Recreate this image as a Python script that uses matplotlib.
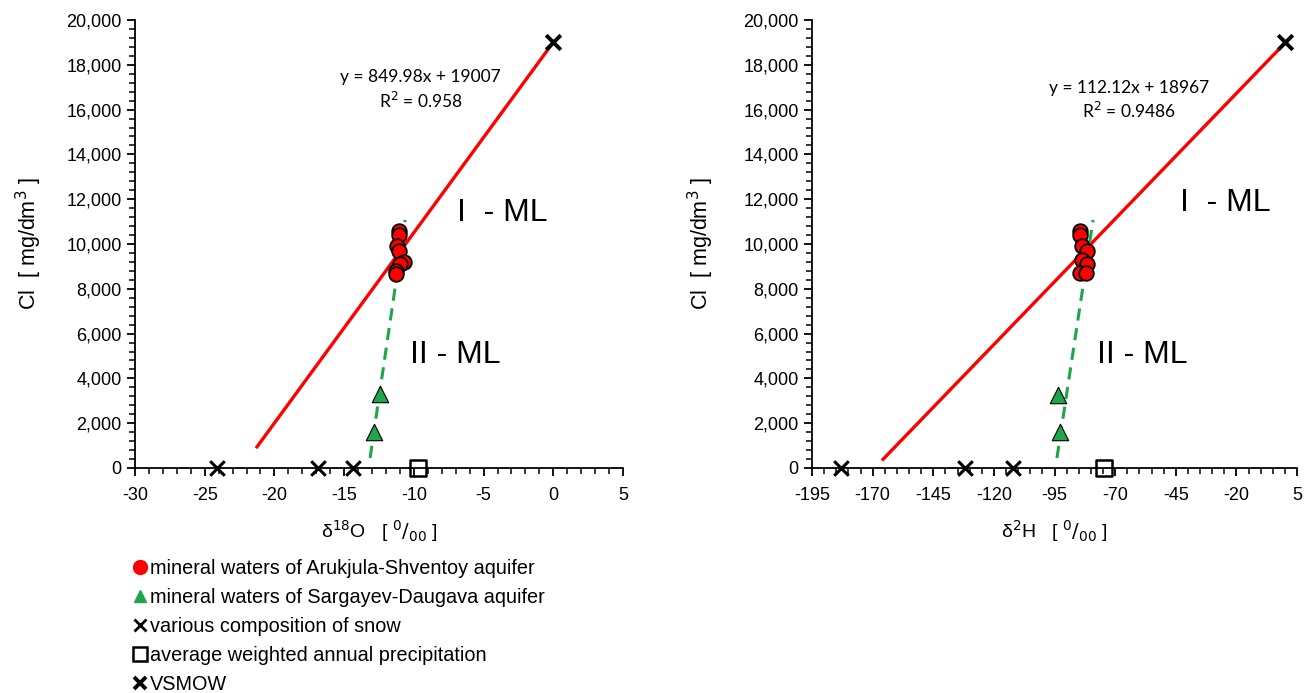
import matplotlib
matplotlib.use("Agg")
import matplotlib.pyplot as plt
import numpy as np
from matplotlib.ticker import MultipleLocator, FixedLocator, FuncFormatter
from matplotlib.lines import Line2D

plt.rcParams['font.family'] = ['Liberation Sans', 'DejaVu Sans']
plt.rcParams['axes.unicode_minus'] = False

# ---- data: left panel (delta 18O) ----
o18_arukjula = [-11.1, -11.1, -11.2, -11.1, -10.7, -11.0, -11.3, -11.3]
cl_arukjula_o = [10600, 10400, 9900, 9700, 9200, 9100, 8800, 8650]
o18_sargayev = [-12.4, -12.85]
cl_sargayev_o = [3300, 1600]
o18_snow = [-24.1, -16.9, -14.4]
o18_precip = [-9.7]
o18_vsmow = [0.0]
cl_vsmow = [19000]
fit_o = (849.98, 19007)          # slope, intercept
fit_o_range = (-21.25, 0.0)
fit2_o = (4233, 56070)
fit2_o_range = (-13.14, -10.63)
xticks_o = [-30, -25, -20, -15, -10, -5, 0, 5]

# ---- data: right panel (delta 2H) ----
h2_arukjula = [-84.5, -84.5, -83.7, -81.5, -83.5, -81.5, -84.5, -82.0]
cl_arukjula_h = [10600, 10400, 9900, 9700, 9300, 9100, 8700, 8700]
h2_sargayev = [-93.6, -92.7]
cl_sargayev_h = [3250, 1600]
h2_snow = [-183.0, -132.0, -112.0]
h2_precip = [-74.6]
h2_vsmow = [0.0]
fit_h = (112.12, 18967)
fit_h_range = (-165.7, 0.0)
fit2_h = (713, 67468)
fit2_h_range = (-94.0, -79.1)
xticks_h = [-195, -170, -145, -120, -95, -70, -45, -20, 5]

RED = '#ff0000'
GREEN = '#1ea64b'

fig = plt.figure(figsize=(13.12, 6.93), dpi=100)
axL = fig.add_axes([135/1312, 225/693, 488/1312, 448/693])
axR = fig.add_axes([812/1312, 225/693, 485/1312, 448/693])

def style(ax, xticks, xmin, ypad):
    ax.set_xlim(xticks[0], xticks[-1])
    ax.set_ylim(0, 20000)
    for s in ['top', 'right']:
        ax.spines[s].set_visible(False)
    for s in ['left', 'bottom']:
        ax.spines[s].set_linewidth(1.3)
    ax.xaxis.set_major_locator(FixedLocator(xticks))
    ax.xaxis.set_minor_locator(FixedLocator(np.arange(xticks[0], xticks[-1] + 0.01, xmin)))
    ax.yaxis.set_major_locator(MultipleLocator(2000))
    ax.yaxis.set_minor_locator(MultipleLocator(400))
    ax.yaxis.set_major_formatter(FuncFormatter(lambda v, p: f"{int(v):,}"))
    ax.xaxis.set_major_formatter(FuncFormatter(lambda v, p: f"{int(round(v))}"))
    ax.tick_params(which='major', length=6, width=1.3, labelsize=13, direction='out')
    ax.tick_params(which='minor', length=4, width=1.1, direction='out')
    ax.tick_params(axis='x', pad=8)
    ax.set_ylabel('Cl  [ mg/dm$^3$ ]', fontsize=15.5, labelpad=ypad)

def panel(ax, xa, ya, xs, ys, xsnow, xprec, xv, fit, frange, fit2, frange2):
    x = np.array(frange)
    ax.plot(x, fit[0]*x + fit[1], color=RED, lw=2.4, zorder=2)
    x2 = np.array(frange2)
    ax.plot(x2, fit2[0]*x2 + fit2[1], color=GREEN, lw=2.2, ls=(0, (4, 2.5)), zorder=2)
    ax.scatter(xa, ya, s=110, marker='o', facecolor=RED, edgecolor='black', linewidth=1.3, zorder=4, clip_on=False)
    ax.scatter(xs, ys, s=140, marker='^', facecolor=GREEN, edgecolor='black', linewidth=0.8, zorder=4, clip_on=False)
    ax.scatter(xsnow, [0]*len(xsnow), s=110, marker='x', color='black', linewidth=2.2, zorder=5, clip_on=False)
    ax.scatter(xprec, [0]*len(xprec), s=130, marker='s', facecolor='none', edgecolor='black', linewidth=1.8, zorder=5, clip_on=False)
    ax.scatter(xv, cl_vsmow, s=110, marker='x', color='black', linewidth=2.8, zorder=5, clip_on=False)

style(axL, xticks_o, 1, 16)
style(axR, xticks_h, 5, 20)

panel(axL, o18_arukjula, cl_arukjula_o, o18_sargayev, cl_sargayev_o, o18_snow, o18_precip, o18_vsmow,
      fit_o, fit_o_range, fit2_o, fit2_o_range)
panel(axR, h2_arukjula, cl_arukjula_h, h2_sargayev, cl_sargayev_h, h2_snow, h2_precip, h2_vsmow,
      fit_h, fit_h_range, fit2_h, fit2_h_range)

axL.set_xlabel('δ$^{18}$O   [ $^{0}/_{00}$ ]', fontsize=14, labelpad=10)
axR.set_xlabel('δ$^{2}$H   [ $^{0}/_{00}$ ]', fontsize=14, labelpad=10)

# equations
eqfont = dict(ha='center', va='center', fontsize=12.5, family=['Lato', 'DejaVu Sans'])
axL.text(-9.5, 17450, 'y = 849.98x + 19007', **eqfont)
axL.text(-9.5, 16400, 'R$^2$ = 0.958', **eqfont)
axR.text(-64.3, 16960, 'y = 112.12x + 18967', **eqfont)
axR.text(-64.3, 15950, 'R$^2$ = 0.9486', **eqfont)

# zone labels
axL.text(-6.9, 11380, 'I  - ML', fontsize=23, va='center', ha='left')
axL.text(-10.3, 5040, 'II - ML', fontsize=23, va='center', ha='left')
axR.text(-43.2, 11830, 'I  - ML', fontsize=23, va='center', ha='left')
axR.text(-77.5, 5040, 'II - ML', fontsize=23, va='center', ha='left')

handles = [
    Line2D([], [], ls='none', marker='o', markersize=10, markerfacecolor=RED, markeredgecolor=RED),
    Line2D([], [], ls='none', marker='^', markersize=9, markerfacecolor=GREEN, markeredgecolor=GREEN),
    Line2D([], [], ls='none', marker='x', markersize=9, color='black', markeredgewidth=2),
    Line2D([], [], ls='none', marker='s', markersize=10, markerfacecolor='none', markeredgecolor='black', markeredgewidth=1.8),
    Line2D([], [], ls='none', marker='x', markersize=9, color='black', markeredgewidth=2.8),
]
labels = ['mineral waters of Arukjula-Shventoy aquifer',
          'mineral waters of Sargayev-Daugava aquifer',
          'various composition of snow',
          'average weighted annual precipitation',
          'VSMOW']
fig.legend(handles, labels, loc='upper left', bbox_to_anchor=(124/1312, 1 - 549/693), frameon=False,
           fontsize=14.3, handlelength=0.6, handletextpad=0.2, labelspacing=0.5, borderpad=0)

fig.savefig('out.png', dpi=100)
